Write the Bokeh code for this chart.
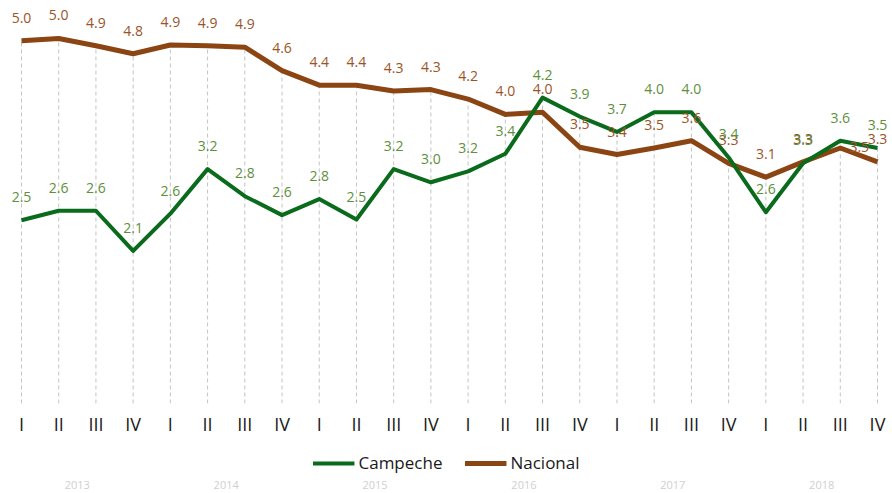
from bokeh.plotting import figure
from bokeh.layouts import column
from bokeh.models import (ColumnDataSource, Range1d, LinearAxis, FixedTicker,
                          Legend, LegendItem)
from bokeh.core.properties import value
from bokeh.embed import file_html
from bokeh.resources import INLINE

# ---------------- data ----------------
years = ["2013", "2014", "2015", "2016", "2017", "2018"]
quarters = ["I", "II", "III", "IV"]
campeche = [2.51, 2.64, 2.64, 2.09, 2.60, 3.21, 2.84, 2.58, 2.80, 2.52, 3.21, 3.03,
            3.18, 3.42, 4.19, 3.93, 3.72, 3.99, 3.99, 3.37, 2.62, 3.29, 3.60, 3.50]
nacional = [4.97, 5.00, 4.90, 4.79, 4.91, 4.90, 4.88, 4.56, 4.36, 4.36, 4.28, 4.30,
            4.17, 3.96, 3.99, 3.51, 3.41, 3.50, 3.60, 3.29, 3.10, 3.31, 3.50, 3.31]
series_names = ["Campeche", "Nacional"]

# ---------------- derived ----------------
n = len(campeche)
xs = list(range(n))
quarter_labels = [quarters[i % 4] for i in xs]
year_ticks = [4 * k + 1.5 for k in range(len(years))]
tops = [max(a, b) for a, b in zip(campeche, nacional)]

C_LINE = "#0a6b1c"
C_TEXT = "#5e8f3c"
N_LINE = "#8b4513"
N_TEXT = "#9a5428"
FONT = "Open Sans"

xr = Range1d(-0.564, 23.403)

p = figure(frame_width=892, frame_height=403, output_backend="svg",
           toolbar_location=None, x_range=xr,
           y_range=Range1d(0, 5.52), min_border_left=0, min_border_right=0,
           min_border_top=0, min_border_bottom=0, outline_line_color=None,
           x_axis_type=None, y_axis_type=None)
p.xgrid.visible = False
p.ygrid.visible = False

# drop lines
p.segment(x0=xs, y0=[0] * n, x1=xs, y1=tops, line_color="#c4c4c4",
          line_width=1, line_dash="4 3")

rn = p.line(xs, nacional, line_color=N_LINE, line_width=5, line_join="round")
rc = p.line(xs, campeche, line_color=C_LINE, line_width=4, line_join="round")

# data labels (style offsets kept separate from the data)
c_xoff = [0] * n
c_yoff = [-23] * n
n_xoff = [0] * n
n_yoff = [-23] * n
n_xoff[22] = 19
n_yoff[22] = -1

src_c = ColumnDataSource(dict(x=xs, y=campeche, t=[f"{v:.1f}" for v in campeche],
                              xo=c_xoff, yo=c_yoff))
src_n = ColumnDataSource(dict(x=xs, y=nacional, t=[f"{v:.1f}" for v in nacional],
                              xo=n_xoff, yo=n_yoff))
p.text(x="x", y="y", text="t", x_offset="xo", y_offset="yo", source=src_n,
       text_color=N_TEXT, text_font=value(FONT), text_font_size="14px",
       text_align="center", text_baseline="middle")
p.text(x="x", y="y", text="t", x_offset="xo", y_offset="yo", source=src_c,
       text_color=C_TEXT, text_font=value(FONT), text_font_size="14px",
       text_align="center", text_baseline="middle")

# quarter axis
qax = LinearAxis(ticker=FixedTicker(ticks=xs),
                 major_label_overrides={i: quarter_labels[i] for i in xs})
qax.axis_line_color = None
qax.major_tick_line_color = None
qax.minor_tick_line_color = None
qax.major_label_text_font = FONT
qax.major_label_text_font_size = "18px"
qax.major_label_text_color = "#1a1a1a"
qax.major_label_standoff = 2
p.add_layout(qax, "below")

# ---------------- legend strip + year axis ----------------
# the same series are drawn here far outside this strip's y range, only so
# that the legend has renderers of its own to draw its swatches from
p2 = figure(frame_width=892, frame_height=36, output_backend="svg",
            toolbar_location=None, x_range=xr, y_range=Range1d(100, 101),
            min_border_left=0, min_border_right=0, min_border_top=0,
            min_border_bottom=0, outline_line_color=None,
            x_axis_type=None, y_axis_type=None)
p2.xgrid.visible = False
p2.ygrid.visible = False
lc = p2.line(xs, campeche, line_color=C_LINE, line_width=4)
ln = p2.line(xs, nacional, line_color=N_LINE, line_width=5)

legend = Legend(items=[LegendItem(label=series_names[0], renderers=[lc]),
                       LegendItem(label=series_names[1], renderers=[ln])],
                orientation="horizontal", location="bottom")
legend.label_text_font = FONT
legend.label_text_font_size = "17px"
legend.label_text_color = "#1a1a1a"
legend.glyph_width = 42
legend.label_standoff = 4
legend.spacing = 22
legend.border_line_color = None
legend.background_fill_alpha = 0
legend.padding = 0
legend.margin = 0
p2.add_layout(legend)

yax = LinearAxis(ticker=FixedTicker(ticks=year_ticks),
                 major_label_overrides={t: y for t, y in zip(year_ticks, years)})
yax.axis_line_color = None
yax.major_tick_line_color = None
yax.minor_tick_line_color = None
yax.major_label_text_font = FONT
yax.major_label_text_font_size = "11px"
yax.major_label_text_color = "#cfcfcf"
yax.major_label_standoff = 0
p2.add_layout(yax, "below")

layout = column(p, p2, spacing=0)
open("out.html", "w").write(file_html(layout, INLINE))
